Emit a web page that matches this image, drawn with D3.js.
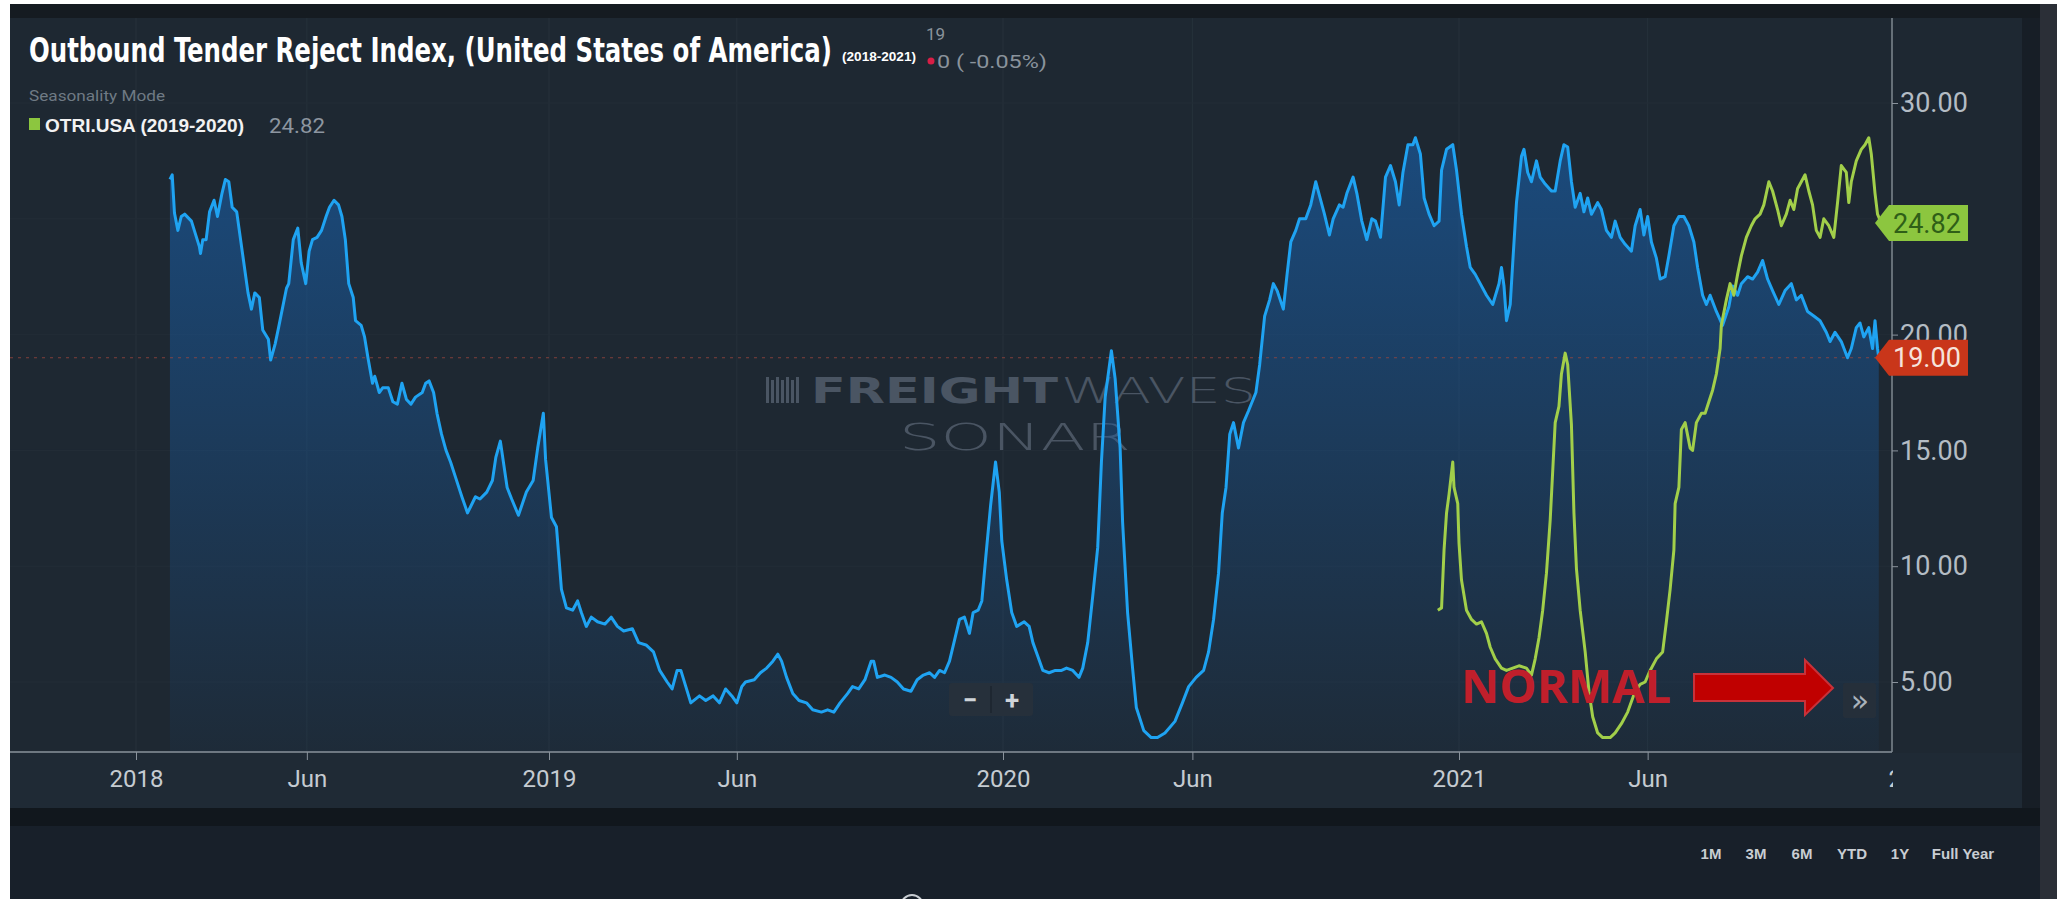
<!DOCTYPE html>
<html><head><meta charset="utf-8">
<script src="https://cdn.jsdelivr.net/npm/d3@7"></script>
<style>html,body{margin:0;padding:0;background:#fff;}svg{display:block}</style>
</head><body>
<svg id="c" width="2057" height="899"></svg>
<script>
// ---------------- DATA ----------------
// Outbound Tender Reject Index (USA), [year-dayOfYear, value]
const blue2018 = [["2018-031",26.7],["2018-033",26.9],["2018-035",25.25],["2018-038",24.5],["2018-041",25.1],["2018-044",25.2],["2018-050",24.9],["2018-057",23.8],["2018-058",23.5],["2018-060",24.1],["2018-063",24.1],["2018-066",25.3],["2018-070",25.8],["2018-073",25.1],["2018-077",26.1],["2018-080",26.7],["2018-083",26.6],["2018-086",25.5],["2018-090",25.3],["2018-096",23.2],["2018-100",21.8],["2018-103",21.1],["2018-106",21.8],["2018-110",21.6],["2018-113",20.2],["2018-118",19.8],["2018-120",18.9],["2018-124",19.6],["2018-127",20.3],["2018-134",22.0],["2018-136",22.2],["2018-140",24.1],["2018-144",24.6],["2018-147",23.1],["2018-151",22.2],["2018-154",23.6],["2018-157",24.1],["2018-161",24.2],["2018-165",24.5],["2018-169",25.1],["2018-172",25.5],["2018-176",25.8],["2018-180",25.6],["2018-183",25.1],["2018-186",24.1],["2018-189",22.2],["2018-193",21.6],["2018-195",20.6],["2018-200",20.4],["2018-203",19.9],["2018-206",19.0],["2018-210",17.9],["2018-212",18.2],["2018-216",17.5],["2018-219",17.7],["2018-224",17.7],["2018-228",17.1],["2018-232",17.0],["2018-236",17.9],["2018-240",17.2],["2018-244",17.0],["2018-248",17.3],["2018-254",17.5],["2018-257",17.9],["2018-260",18.0],["2018-264",17.5],["2018-267",16.6],["2018-271",15.7],["2018-275",15.0],["2018-279",14.5],["2018-283",13.9],["2018-289",13.0],["2018-294",12.3],["2018-297",12.6],["2018-301",13.0],["2018-305",12.9],["2018-311",13.2],["2018-316",13.7],["2018-319",14.7],["2018-323",15.4],["2018-329",13.4],["2018-333",12.9],["2018-339",12.2],["2018-346",13.2],["2018-352",13.7],["2018-356",15.1],["2018-361",16.6],["2018-363",14.6]];
const blue2019 = [["2019-003",12.1],["2019-007",11.7],["2019-011",9.0],["2019-015",8.2],["2019-020",8.1],["2019-024",8.5],["2019-027",8.0],["2019-031",7.4],["2019-035",7.8],["2019-040",7.6],["2019-046",7.5],["2019-051",7.8],["2019-056",7.4],["2019-061",7.2],["2019-068",7.3],["2019-073",6.7],["2019-079",6.6],["2019-085",6.3],["2019-090",5.5],["2019-096",5.0],["2019-100",4.7],["2019-104",5.5],["2019-107",5.5],["2019-111",4.8],["2019-115",4.1],["2019-122",4.4],["2019-127",4.2],["2019-133",4.4],["2019-138",4.1],["2019-143",4.7],["2019-148",4.4],["2019-152",4.1],["2019-156",4.8],["2019-159",5.0],["2019-166",5.1],["2019-171",5.4],["2019-176",5.6],["2019-181",5.9],["2019-185",6.2],["2019-188",5.9],["2019-192",5.2],["2019-197",4.5],["2019-202",4.2],["2019-208",4.1],["2019-213",3.8],["2019-220",3.7],["2019-225",3.8],["2019-230",3.7],["2019-235",4.1],["2019-241",4.5],["2019-245",4.8],["2019-250",4.7],["2019-255",5.1],["2019-260",5.9],["2019-262",5.9],["2019-265",5.2],["2019-271",5.3],["2019-276",5.2],["2019-281",5.0],["2019-286",4.7],["2019-292",4.6],["2019-297",5.1],["2019-302",5.3],["2019-307",5.4],["2019-311",5.2],["2019-315",5.5],["2019-319",5.4],["2019-323",5.9],["2019-327",6.8],["2019-331",7.7],["2019-335",7.8],["2019-339",7.1],["2019-342",8.0],["2019-346",8.1],["2019-349",8.5],["2019-352",10.3],["2019-356",12.6],["2019-360",14.5],["2019-363",13.2],["2019-365",11.1]];
const blue2020 = [["2020-004",9.4],["2020-008",8.0],["2020-012",7.4],["2020-018",7.6],["2020-022",7.4],["2020-025",6.7],["2020-029",6.1],["2020-033",5.5],["2020-038",5.4],["2020-043",5.5],["2020-048",5.5],["2020-052",5.6],["2020-057",5.5],["2020-062",5.2],["2020-065",5.6],["2020-069",6.7],["2020-073",8.7],["2020-077",10.8],["2020-080",14.5],["2020-083",17.3],["2020-088",19.3],["2020-091",18.1],["2020-095",15.1],["2020-097",11.9],["2020-101",8.0],["2020-105",5.6],["2020-108",3.9],["2020-114",2.9],["2020-120",2.6],["2020-125",2.6],["2020-131",2.8],["2020-139",3.3],["2020-145",4.1],["2020-150",4.8],["2020-156",5.2],["2020-162",5.5],["2020-166",6.3],["2020-170",7.7],["2020-174",9.7],["2020-177",12.3],["2020-180",13.4],["2020-183",15.7],["2020-186",16.2],["2020-190",15.1],["2020-194",16.2],["2020-198",16.7],["2020-204",17.5],["2020-207",18.7],["2020-211",20.8],["2020-215",21.5],["2020-218",22.2],["2020-221",21.9],["2020-226",21.1],["2020-229",22.6],["2020-232",24.0],["2020-236",24.5],["2020-239",25.0],["2020-244",25.0],["2020-248",25.6],["2020-252",26.6],["2020-255",26.0],["2020-259",25.2],["2020-263",24.3],["2020-266",25.0],["2020-271",25.6],["2020-274",25.5],["2020-277",26.1],["2020-282",26.8],["2020-285",26.1],["2020-289",24.9],["2020-293",24.1],["2020-297",25.0],["2020-300",24.9],["2020-304",24.2],["2020-308",26.8],["2020-312",27.3],["2020-316",26.6],["2020-319",25.6],["2020-322",27.0],["2020-326",28.2],["2020-330",28.2],["2020-332",28.5],["2020-336",27.8],["2020-339",25.9],["2020-343",25.2],["2020-347",24.7],["2020-351",24.9],["2020-353",27.1],["2020-357",28.0],["2020-362",28.2],["2020-365",27.1]];
const blue2021 = [["2021-003",25.2],["2021-007",23.8],["2021-010",22.9],["2021-014",22.6],["2021-018",22.2],["2021-023",21.7],["2021-028",21.3],["2021-033",22.2],["2021-035",22.9],["2021-037",22.1],["2021-039",20.6],["2021-042",21.3],["2021-044",23.1],["2021-047",25.7],["2021-051",27.7],["2021-053",28.0],["2021-056",27.0],["2021-059",26.6],["2021-063",27.5],["2021-066",26.8],["2021-070",26.5],["2021-075",26.2],["2021-078",26.2],["2021-082",27.5],["2021-085",28.2],["2021-088",28.1],["2021-091",26.6],["2021-094",25.5],["2021-098",26.1],["2021-101",25.3],["2021-104",25.9],["2021-107",25.2],["2021-112",25.7],["2021-115",25.4],["2021-119",24.5],["2021-123",24.2],["2021-126",24.9],["2021-130",24.2],["2021-134",23.9],["2021-139",23.6],["2021-142",24.7],["2021-146",25.4],["2021-149",24.3],["2021-152",25.1],["2021-155",24.0],["2021-159",23.3],["2021-162",22.4],["2021-166",22.5],["2021-169",23.4],["2021-173",24.7],["2021-177",25.1],["2021-181",25.1],["2021-185",24.7],["2021-189",24.0],["2021-192",22.9],["2021-196",21.7],["2021-199",21.3],["2021-202",21.7],["2021-207",21.0],["2021-212",20.4],["2021-217",21.2],["2021-220",22.1],["2021-224",21.7],["2021-227",22.2],["2021-232",22.5],["2021-236",22.4],["2021-240",22.7],["2021-244",23.2],["2021-248",22.4],["2021-252",21.9],["2021-257",21.3],["2021-262",21.9],["2021-267",22.2],["2021-271",21.5],["2021-275",21.7],["2021-280",21.0],["2021-285",20.8],["2021-290",20.6],["2021-295",20.1],["2021-298",19.7],["2021-302",20.1],["2021-307",19.7],["2021-312",19.0],["2021-315",19.4],["2021-319",20.3],["2021-322",20.5],["2021-325",19.9],["2021-329",20.3],["2021-332",19.4],["2021-334",20.6],["2021-336",19.4],["2021-337",19.0]];
// Seasonality series OTRI.USA (2019-2020), plotted one year forward
const season2019to2020 = [["2019-349",8.1],["2019-352",8.2],["2019-354",10.7],["2019-356",12.3],["2019-358",13.1],["2019-361",14.5],["2019-362",13.4],["2019-365",12.7],["2020-001",11.0],["2020-003",9.4],["2020-007",8.1],["2020-011",7.7],["2020-015",7.5],["2020-019",7.6],["2020-023",7.1],["2020-026",6.5],["2020-030",6.0],["2020-035",5.6],["2020-039",5.5],["2020-044",5.6],["2020-049",5.7],["2020-055",5.6],["2020-059",5.3],["2020-063",6.0],["2020-066",6.9],["2020-069",8.1],["2020-072",9.7],["2020-075",12.0],["2020-077",14.1],["2020-079",16.2],["2020-082",16.9],["2020-084",18.3],["2020-087",19.2],["2020-089",18.7],["2020-092",16.1],["2020-094",12.3],["2020-096",9.9],["2020-099",8.1],["2020-103",6.3],["2020-106",4.6],["2020-109",3.5],["2020-113",2.8],["2020-117",2.6],["2020-123",2.6],["2020-127",2.8],["2020-132",3.2],["2020-137",3.7],["2020-143",4.6],["2020-147",4.9],["2020-151",5.0],["2020-155",5.5],["2020-160",6.0],["2020-165",6.3],["2020-168",7.6],["2020-171",9.0],["2020-174",10.7],["2020-175",12.7],["2020-178",13.4],["2020-180",15.9],["2020-183",16.2],["2020-187",15.1],["2020-189",15.0],["2020-192",16.2],["2020-196",16.6],["2020-199",16.6],["2020-202",17.1],["2020-205",17.6],["2020-208",18.3],["2020-211",19.4],["2020-212",20.4],["2020-216",21.5],["2020-219",22.2],["2020-222",21.7],["2020-225",22.6],["2020-228",23.4],["2020-232",24.2],["2020-236",24.7],["2020-239",25.0],["2020-243",25.2],["2020-246",25.6],["2020-250",26.6],["2020-253",26.2],["2020-257",25.4],["2020-260",24.7],["2020-264",25.2],["2020-267",25.8],["2020-270",25.4],["2020-273",26.3],["2020-279",26.9],["2020-282",26.2],["2020-285",25.6],["2020-288",24.5],["2020-291",24.2],["2020-294",25.0],["2020-298",24.7],["2020-302",24.2],["2020-305",25.7],["2020-308",27.3],["2020-312",27.0],["2020-314",25.7],["2020-316",26.6],["2020-320",27.5],["2020-324",28.0],["2020-327",28.2],["2020-330",28.5],["2020-332",27.8],["2020-335",26.1],["2020-337",25.2],["2020-340",24.82]];
const yearStarts = ["2018-01-01","2019-01-01","2020-01-01","2021-01-01","2022-01-01"];
const xTickDates = ["2018-01-01","2018-06-01","2019-01-01","2019-06-01","2020-01-01","2020-06-01","2021-01-01","2021-06-01","2022-01-01"];
const xTickLabels = ["2018","Jun","2019","Jun","2020","Jun","2021","Jun","2022"];
const yTickValues = [5,10,15,20,25,30];
const lastValues = [19.00, 24.82];
const rangeButtons = ["1M","3M","6M","YTD","1Y","Full Year"];

// ---------------- LAYOUT ----------------
const W = 2057, H = 899;
const plotL = 10, plotR = 1892, plotT = 18, plotB = 752;
const svg = d3.select("#c");
const parseISO = d3.timeParse("%Y-%m-%d");
const parseDay = s => { const [yy, dd] = s.split("-").map(Number); return d3.timeDay.offset(new Date(yy, 0, 1), dd - 1); };

const blue = [...blue2018, ...blue2019, ...blue2020, ...blue2021].map(([d, v]) => ({date: parseDay(d), value: v}));
const season = season2019to2020.map(([d, v]) => ({date: d3.timeYear.offset(parseDay(d), 1), value: v}));

const x = d3.scaleTime().domain(yearStarts.map(parseISO)).range([136, 549, 1003, 1459, 1915]);
const y = d3.scaleLinear().domain([5, 30]).range([682, 103]);

// backgrounds
svg.append("rect").attr("width", W).attr("height", H).attr("fill", "#ffffff");
svg.append("rect").attr("x", 10).attr("y", 4).attr("width", W - 10).attr("height", 14).attr("fill", "#151b21");
svg.append("rect").attr("x", 10).attr("y", 18).attr("width", 2012).attr("height", 790).attr("fill", "#1e2832");
svg.append("rect").attr("x", 10).attr("y", 753).attr("width", 2012).attr("height", 55).attr("fill", "#1f2a35");
svg.append("rect").attr("x", 2022).attr("y", 18).attr("width", 18).attr("height", 808).attr("fill", "#171e26");
svg.append("rect").attr("x", 10).attr("y", 808).attr("width", 2030).attr("height", 18).attr("fill", "#11171d");
svg.append("rect").attr("x", 10).attr("y", 826).attr("width", 2030).attr("height", 73).attr("fill", "#18202a");
svg.append("rect").attr("x", 2040).attr("y", 4).attr("width", 17).attr("height", H - 4).attr("fill", "#2b2f37");

const defs = svg.append("defs");
defs.append("clipPath").attr("id", "plotClip").append("rect")
  .attr("x", plotL).attr("y", plotT).attr("width", plotR - plotL).attr("height", plotB - plotT);
defs.append("clipPath").attr("id", "xLabClip").append("rect")
  .attr("x", 0).attr("y", 0).attr("width", plotR + 1).attr("height", H);
const grad = defs.append("linearGradient").attr("id", "areaGrad")
  .attr("gradientUnits", "userSpaceOnUse").attr("x1", 0).attr("x2", 0).attr("y1", 130).attr("y2", plotB);
grad.append("stop").attr("offset", 0).attr("stop-color", "#1864b4").attr("stop-opacity", 0.58);
grad.append("stop").attr("offset", 1).attr("stop-color", "#1864b4").attr("stop-opacity", 0.05);

// grid
const grid = svg.append("g");
grid.selectAll("line.v").data(xTickDates.map(parseISO)).join("line")
  .attr("x1", d => x(d)).attr("x2", d => x(d)).attr("y1", plotT).attr("y2", plotB)
  .attr("stroke", "#26313b").attr("stroke-width", 1)
  .attr("clip-path", "url(#plotClip)");
grid.selectAll("line.h").data(yTickValues).join("line")
  .attr("x1", plotL).attr("x2", plotR).attr("y1", d => y(d)).attr("y2", d => y(d))
  .attr("stroke", "#232d37").attr("stroke-width", 1);

// watermark
const wm = svg.append("g").attr("fill", "#4a5563");
d3.range(7).forEach(i => {
  wm.append("rect").attr("x", 766 + i * 5).attr("y", 377 + (i % 2) * 3).attr("width", 3).attr("height", 26 - (i % 2) * 3);
});
wm.append("text").attr("x", 811).attr("y", 403).attr("font-family", "DejaVu Sans").attr("font-weight", "bold")
  .attr("font-size", 36).attr("textLength", 247).attr("lengthAdjust", "spacingAndGlyphs").text("FREIGHT");
wm.append("text").attr("x", 1061).attr("y", 403).attr("font-family", "DejaVu Sans").attr("font-weight", 200)
  .attr("font-size", 36).attr("textLength", 195).attr("lengthAdjust", "spacingAndGlyphs").text("WAVES");
wm.append("text").attr("x", 899).attr("y", 450).attr("font-family", "DejaVu Sans").attr("font-weight", 200)
  .attr("font-size", 37).attr("textLength", 232).attr("lengthAdjust", "spacingAndGlyphs").text("SONAR");

// series
const plot = svg.append("g").attr("clip-path", "url(#plotClip)");
plot.append("path").datum(blue)
  .attr("d", d3.area().x(d => x(d.date)).y0(plotB).y1(d => y(d.value)))
  .attr("fill", "url(#areaGrad)");
// current value dashed line
plot.append("line").attr("x1", plotL).attr("x2", plotR).attr("y1", y(lastValues[0])).attr("y2", y(lastValues[0]))
  .attr("stroke", "#a3483d").attr("stroke-opacity", 0.75).attr("stroke-width", 1.2).attr("stroke-dasharray", "3,5");
const line = d3.line().x(d => x(d.date)).y(d => y(d.value));
plot.append("path").datum(blue).attr("d", line).attr("fill", "none")
  .attr("stroke", "#1fa3f2").attr("stroke-width", 3).attr("stroke-linejoin", "round");
plot.append("path").datum(season).attr("d", line).attr("fill", "none")
  .attr("stroke", "#a2cf4a").attr("stroke-width", 3).attr("stroke-linejoin", "round");

// axes
const xAxis = svg.append("g").attr("transform", `translate(0,${plotB})`).attr("clip-path", "url(#xLabClip)")
  .call(d3.axisBottom(x).tickValues(xTickDates.map(parseISO)).tickSize(8).tickPadding(10)
    .tickFormat((d, i) => xTickLabels[i]));
xAxis.select(".domain").remove();
xAxis.selectAll(".tick line").attr("stroke", "#8a939c");
xAxis.selectAll(".tick text").attr("fill", "#c5cbd1").attr("font-family", "Roboto").attr("font-size", 24);
svg.append("line").attr("x1", plotL).attr("x2", plotR).attr("y1", plotB).attr("y2", plotB)
  .attr("stroke", "#8a939c").attr("stroke-width", 1.5);
svg.append("line").attr("x1", plotR).attr("x2", plotR).attr("y1", plotT).attr("y2", plotB)
  .attr("stroke", "#7f8891").attr("stroke-width", 1.5);

const yAxis = svg.append("g").attr("transform", `translate(${plotR},0)`)
  .call(d3.axisRight(y).tickValues(yTickValues).tickSize(6).tickPadding(2).tickFormat(d3.format(".2f")));
yAxis.select(".domain").remove();
yAxis.selectAll(".tick line").attr("stroke", "#8a939c");
yAxis.selectAll(".tick text").attr("fill", "#b4bcc4").attr("font-family", "Roboto").attr("font-size", 27);

// last value tags
const tagColors = [{bg: "#c9361a", fg: "#f6e3dc"}, {bg: "#8cc63f", fg: "#2f5f17"}];
lastValues.forEach((v, i) => {
  const ty = y(v);
  svg.append("path")
    .attr("d", `M1875,${ty} L1889,${ty - 18} L1968,${ty - 18} L1968,${ty + 18} L1889,${ty + 18} Z`)
    .attr("fill", tagColors[i].bg);
  svg.append("text").attr("x", 1893).attr("y", ty).attr("dy", "0.36em")
    .attr("font-family", "Roboto").attr("font-size", 27).attr("fill", tagColors[i].fg)
    .text(d3.format(".2f")(v));
});

// header
const hdr = svg.append("g");
hdr.append("text").attr("x", 29).attr("y", 62).attr("font-family", "'Liberation Sans Narrow', 'DejaVu Sans Condensed', sans-serif")
  .attr("font-weight", "bold").attr("font-size", 34).attr("fill", "#ffffff")
  .attr("textLength", 803).attr("lengthAdjust", "spacingAndGlyphs")
  .text("Outbound Tender Reject Index, (United States of America)");
hdr.append("text").attr("x", 842).attr("y", 61).attr("font-family", "'Liberation Sans Narrow', sans-serif")
  .attr("font-weight", "bold").attr("font-size", 12).attr("fill", "#ffffff")
  .attr("textLength", 74).attr("lengthAdjust", "spacingAndGlyphs").text("(2018-2021)");
hdr.append("text").attr("x", 926).attr("y", 40).attr("font-family", "Roboto").attr("font-size", 17)
  .attr("fill", "#8a939c").text("19");
hdr.append("circle").attr("cx", 931).attr("cy", 61).attr("r", 3.5).attr("fill", "#d81e46");
hdr.append("text").attr("x", 937).attr("y", 68).attr("font-family", "Roboto").attr("font-size", 19)
  .attr("fill", "#8a939c").attr("textLength", 110).attr("lengthAdjust", "spacingAndGlyphs").text("0 ( -0.05%)");
hdr.append("text").attr("x", 29).attr("y", 101).attr("font-family", "Roboto").attr("font-size", 15)
  .attr("fill", "#6f7a84").attr("textLength", 136).attr("lengthAdjust", "spacingAndGlyphs").text("Seasonality Mode");
hdr.append("rect").attr("x", 29).attr("y", 118).attr("width", 11).attr("height", 12).attr("fill", "#8cc63f");
hdr.append("text").attr("x", 45).attr("y", 132).attr("font-family", "'Liberation Sans Narrow', sans-serif")
  .attr("font-weight", "bold").attr("font-size", 18).attr("fill", "#f2f2f2")
  .attr("textLength", 199).attr("lengthAdjust", "spacingAndGlyphs").text("OTRI.USA (2019-2020)");
hdr.append("text").attr("x", 269).attr("y", 133).attr("font-family", "Roboto").attr("font-size", 21)
  .attr("fill", "#8d96a0").attr("textLength", 56).attr("lengthAdjust", "spacingAndGlyphs").text("24.82");

// zoom buttons
const zb = svg.append("g");
zb.append("rect").attr("x", 949).attr("y", 683).attr("width", 84).attr("height", 33).attr("rx", 3).attr("fill", "#26303b");
zb.append("line").attr("x1", 991).attr("x2", 991).attr("y1", 686).attr("y2", 713).attr("stroke", "#1e2731").attr("stroke-width", 2);
zb.append("text").attr("x", 970).attr("y", 700).attr("dy", "0.35em").attr("text-anchor", "middle")
  .attr("font-family", "Roboto").attr("font-weight", "bold").attr("font-size", 26).attr("fill", "#cfd4d9").text("−");
zb.append("text").attr("x", 1012).attr("y", 700).attr("dy", "0.35em").attr("text-anchor", "middle")
  .attr("font-family", "Roboto").attr("font-weight", "bold").attr("font-size", 26).attr("fill", "#cfd4d9").text("+");
svg.append("rect").attr("x", 1843).attr("y", 683).attr("width", 33).attr("height", 35).attr("rx", 2).attr("fill", "#252f3a");
svg.append("text").attr("x", 1860).attr("y", 700).attr("dy", "0.35em").attr("text-anchor", "middle")
  .attr("font-family", "DejaVu Sans").attr("font-size", 30).attr("fill", "#a9b2bb").text("»");

// annotation
svg.append("text").attr("x", 1461).attr("y", 703).attr("font-family", "'Open Sans'").attr("font-weight", "bold")
  .attr("font-size", 47).attr("fill", "#c01f2b").attr("textLength", 210).attr("lengthAdjust", "spacingAndGlyphs").text("NORMAL");
svg.append("path").attr("d", "M1694,674 L1805,674 L1805,660 L1833,688 L1805,715 L1805,701 L1694,701 Z")
  .attr("fill", "#c00000").attr("stroke", "#c8323a").attr("stroke-width", 2);

// bottom range buttons
const btnX = [1711, 1756, 1802, 1852, 1900, 1963];
svg.append("g").selectAll("text").data(rangeButtons).join("text")
  .attr("x", (d, i) => btnX[i]).attr("y", 859).attr("text-anchor", "middle")
  .attr("font-family", "'Liberation Sans Narrow', sans-serif").attr("font-weight", "bold").attr("font-size", 15)
  .attr("fill", "#c8cdd2").text(d => d);
svg.append("circle").attr("cx", 912).attr("cy", 906).attr("r", 11).attr("fill", "none")
  .attr("stroke", "#c8cdd2").attr("stroke-width", 2);
</script>
</body></html>
